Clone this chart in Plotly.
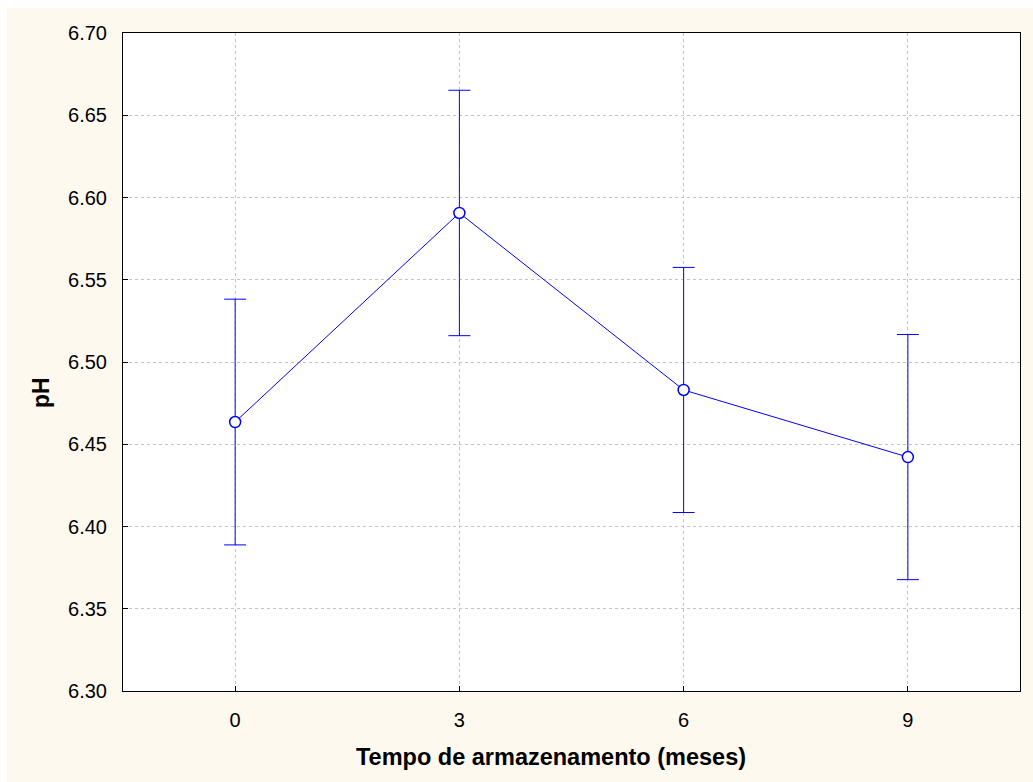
import plotly.graph_objects as go

months = [0, 3, 6, 9]
tick_labels = ["0", "3", "6", "9"]
ph_mean = [6.4635, 6.5906, 6.4830, 6.4422]
ph_err = [0.0747, 0.0746, 0.0745, 0.0745]
y_ticks = [6.30, 6.35, 6.40, 6.45, 6.50, 6.55, 6.60, 6.65, 6.70]

W, H = 1033, 782
L, R, T, B = 123, 13, 33, 91
pw, ph = W - L - R, H - T - B

def px_x(p):
    return (p - L) / pw

def px_y(p):
    return (H - B - p) / ph

BLUE = "#0000FF"
CREAM = "#FDF9EE"
FONT = "Liberation Sans, Arial, sans-serif"

fig = go.Figure()
fig.add_trace(go.Scatter(
    x=months, y=ph_mean, mode="lines+markers",
    line=dict(color=BLUE, width=1),
    marker=dict(symbol="circle", size=11, color="white", line=dict(color=BLUE, width=1.5)),
    error_y=dict(type="data", array=ph_err, visible=True, color=BLUE, thickness=1, width=11),
    showlegend=False,
))

fig.update_layout(
    width=W, height=H,
    margin=dict(l=L, r=R, t=T, b=B, pad=0),
    paper_bgcolor="white", plot_bgcolor="rgba(0,0,0,0)",
    font=dict(family=FONT, size=20, color="black"),
    shapes=[
        dict(type="rect", xref="paper", yref="paper", layer="below",
             x0=px_x(7), x1=px_x(1040), y0=px_y(790), y1=px_y(8),
             fillcolor=CREAM, line=dict(width=0)),
        dict(type="rect", xref="paper", yref="paper", layer="below",
             x0=0, x1=1, y0=0, y1=1, fillcolor="white", line=dict(width=0)),
    ],
    annotations=[
        dict(text="<b>Tempo de armazenamento (meses)</b>", xref="paper", yref="paper",
             x=px_x(551), y=px_y(757), xanchor="center", yanchor="middle",
             showarrow=False, font=dict(size=23.5, family=FONT, color="black")),
        dict(text="<b>pH</b>", xref="paper", yref="paper",
             x=px_x(41), y=px_y(393), xanchor="center", yanchor="middle", textangle=-90,
             showarrow=False, font=dict(size=23, family=FONT, color="black")),
    ],
)

fig.update_xaxes(
    range=[-1.5, 10.5], tickmode="array", tickvals=months, ticktext=tick_labels,
    showgrid=True, gridcolor="#C4C4C4", griddash="dot", gridwidth=1,
    showline=True, linecolor="black", linewidth=1, mirror=True,
    ticks="inside", ticklen=5, tickcolor="black", ticklabelstandoff=11,
    zeroline=False,
)
fig.update_yaxes(
    range=[6.30, 6.70], tickmode="array", tickvals=y_ticks,
    ticktext=[f"{v:.2f}" for v in y_ticks],
    showgrid=True, gridcolor="#C4C4C4", griddash="dot", gridwidth=1,
    showline=True, linecolor="black", linewidth=1, mirror=True,
    ticks="inside", ticklen=5, tickcolor="black", ticklabelstandoff=11,
    zeroline=False,
)

fig.write_html("out.html")
